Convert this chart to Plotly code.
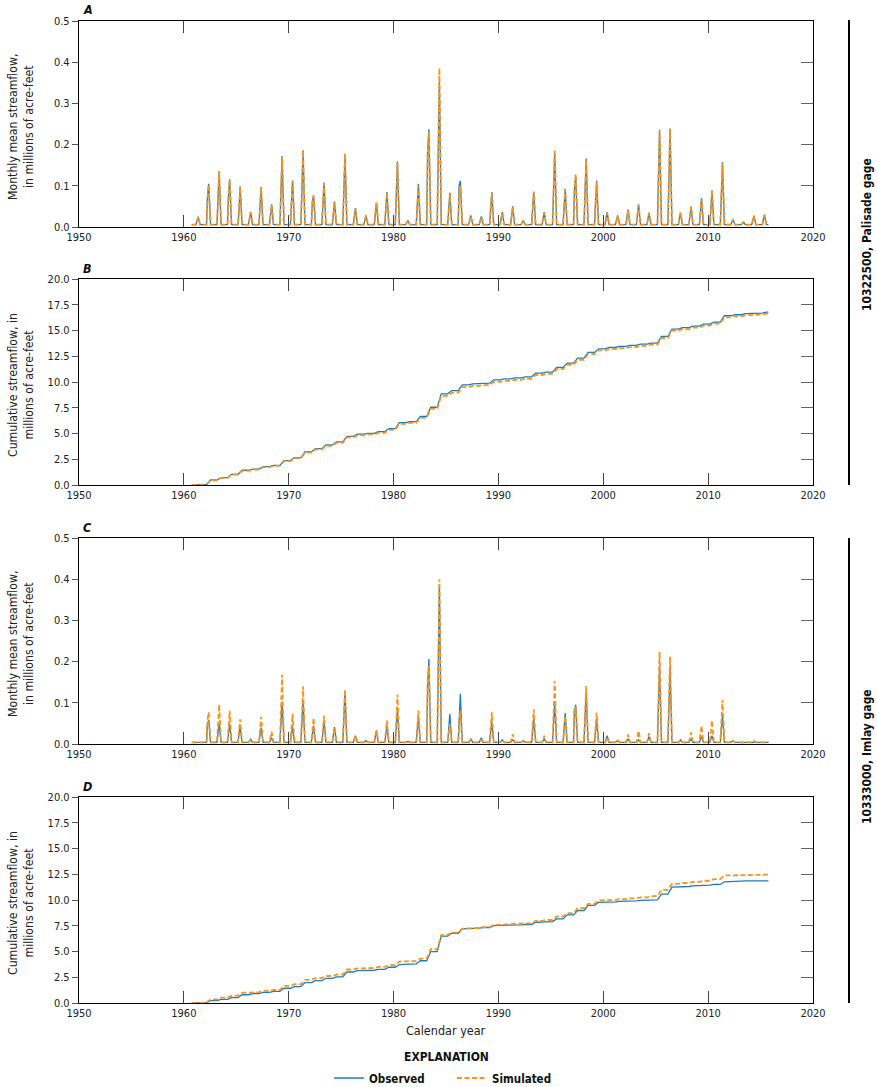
import plotly.graph_objects as go

# ---------------- data ----------------
years = list(range(1961, 2016))

# Panel A - Palisade gage, monthly mean streamflow peaks (millions of acre-feet)
a_obs_peak = [0.025, 0.105, 0.136, 0.116, 0.099, 0.037, 0.097, 0.055, 0.172, 0.113,
              0.186, 0.077, 0.108, 0.062, 0.176, 0.046, 0.028, 0.058, 0.085, 0.159,
              0.016, 0.104, 0.237, 0.352, 0.083, 0.112, 0.028, 0.026, 0.085, 0.036,
              0.050, 0.016, 0.085, 0.036, 0.178, 0.093, 0.122, 0.166, 0.113, 0.036,
              0.028, 0.042, 0.055, 0.035, 0.236, 0.239, 0.034, 0.049, 0.070, 0.089,
              0.158, 0.019, 0.012, 0.027, 0.030]
a_sim_peak = [0.024, 0.103, 0.134, 0.114, 0.097, 0.036, 0.095, 0.054, 0.170, 0.112,
              0.184, 0.075, 0.106, 0.060, 0.178, 0.045, 0.027, 0.060, 0.083, 0.155,
              0.016, 0.100, 0.230, 0.386, 0.080, 0.100, 0.027, 0.025, 0.083, 0.035,
              0.049, 0.016, 0.086, 0.035, 0.188, 0.092, 0.129, 0.162, 0.110, 0.035,
              0.027, 0.041, 0.054, 0.034, 0.234, 0.236, 0.036, 0.050, 0.068, 0.087,
              0.156, 0.019, 0.012, 0.028, 0.029]
a_obs_early = {1962: 0.070, 1964: 0.071, 1965: 0.035, 1972: 0.060, 1983: 0.182,
               1986: 0.101, 1997: 0.089}
a_sim_early = {1962: 0.068, 1964: 0.070, 1965: 0.034, 1972: 0.058, 1983: 0.170,
               1986: 0.077, 1997: 0.088}
a_base = 0.006

# Panel B - Palisade gage, cumulative streamflow at end of each year's runoff
b_obs = [0.05, 0.49, 0.71, 1.04, 1.43, 1.55, 1.78, 1.90, 2.37, 2.66,
         3.21, 3.53, 3.89, 4.18, 4.73, 4.93, 5.02, 5.19, 5.48, 6.06,
         6.16, 6.65, 7.55, 8.85, 9.17, 9.72, 9.82, 9.89, 10.21, 10.31,
         10.40, 10.50, 10.86, 10.96, 11.41, 11.83, 12.32, 12.87, 13.22, 13.35,
         13.45, 13.55, 13.68, 13.78, 14.42, 15.14, 15.27, 15.43, 15.62, 15.82,
         16.43, 16.53, 16.63, 16.69, 16.79]
b_sim = [0.05, 0.46, 0.68, 1.00, 1.38, 1.50, 1.73, 1.85, 2.31, 2.60,
         3.14, 3.45, 3.81, 4.09, 4.63, 4.82, 4.91, 5.07, 5.36, 5.93,
         6.03, 6.52, 7.40, 8.66, 8.97, 9.50, 9.62, 9.70, 10.01, 10.11,
         10.21, 10.31, 10.68, 10.79, 11.25, 11.67, 12.16, 12.71, 13.07, 13.19,
         13.29, 13.39, 13.52, 13.63, 14.27, 14.99, 15.12, 15.28, 15.47, 15.67,
         16.28, 16.38, 16.48, 16.55, 16.63]

# Panel C - Imlay gage, monthly mean streamflow peaks
c_obs_peak = [0.005, 0.058, 0.049, 0.049, 0.044, 0.012, 0.040, 0.015, 0.103, 0.042,
              0.106, 0.045, 0.057, 0.041, 0.126, 0.020, 0.008, 0.033, 0.045, 0.085,
              0.006, 0.065, 0.206, 0.386, 0.073, 0.122, 0.012, 0.015, 0.055, 0.010,
              0.010, 0.008, 0.061, 0.012, 0.098, 0.075, 0.095, 0.127, 0.058, 0.020,
              0.008, 0.012, 0.010, 0.018, 0.190, 0.184, 0.010, 0.012, 0.018, 0.020,
              0.070, 0.008, 0.004, 0.004, 0.004]
c_sim_peak = [0.005, 0.077, 0.096, 0.081, 0.060, 0.010, 0.066, 0.030, 0.168, 0.073,
              0.140, 0.063, 0.069, 0.040, 0.133, 0.020, 0.008, 0.033, 0.057, 0.120,
              0.006, 0.081, 0.190, 0.400, 0.049, 0.081, 0.010, 0.010, 0.077, 0.010,
              0.024, 0.008, 0.084, 0.020, 0.153, 0.067, 0.089, 0.141, 0.076, 0.015,
              0.010, 0.023, 0.032, 0.026, 0.224, 0.212, 0.010, 0.028, 0.044, 0.057,
              0.107, 0.008, 0.004, 0.008, 0.004]
c_obs_early = {1962: 0.049, 1983: 0.140, 1997: 0.080}
c_sim_early = {1962: 0.055, 1983: 0.150, 1997: 0.090}
c_base = 0.004

# Panel D - Imlay gage, cumulative streamflow
d_obs = [0.02, 0.23, 0.36, 0.52, 0.80, 0.92, 1.04, 1.13, 1.43, 1.59,
         1.98, 2.17, 2.40, 2.53, 3.01, 3.14, 3.18, 3.27, 3.47, 3.73,
         3.79, 4.10, 4.99, 6.50, 6.77, 7.20, 7.26, 7.33, 7.52, 7.56,
         7.59, 7.62, 7.84, 7.91, 8.17, 8.56, 8.98, 9.47, 9.76, 9.82,
         9.87, 9.91, 9.96, 10.02, 10.57, 11.25, 11.31, 11.37, 11.44, 11.51,
         11.77, 11.84, 11.85, 11.86, 11.86]
d_sim = [0.03, 0.35, 0.52, 0.72, 0.98, 1.05, 1.17, 1.26, 1.66, 1.82,
         2.24, 2.42, 2.62, 2.76, 3.25, 3.36, 3.40, 3.50, 3.68, 4.02,
         4.07, 4.30, 5.22, 6.62, 6.84, 7.22, 7.28, 7.36, 7.58, 7.65,
         7.70, 7.74, 7.97, 8.06, 8.40, 8.72, 9.21, 9.63, 9.95, 10.02,
         10.08, 10.16, 10.26, 10.38, 10.99, 11.57, 11.65, 11.75, 11.87, 12.03,
         12.38, 12.43, 12.44, 12.45, 12.46]

monthly_ticks = [0.0, 0.1, 0.2, 0.3, 0.4, 0.5]
cum_ticks = [0.0, 2.5, 5.0, 7.5, 10.0, 12.5, 15.0, 17.5, 20.0]
year_ticks = [1950, 1960, 1970, 1980, 1990, 2000, 2010, 2020]

# ---------------- helpers building series from the read values ----------------
def spike_series(peaks, early, base):
    xs, ys = ['1960-10-01'], [base]
    for yr, pk in zip(years, peaks):
        xs.append(f'{yr}-03-01'); ys.append(base)
        if yr in early:
            xs.append(f'{yr}-04-01'); ys.append(early[yr])
        xs.append(f'{yr}-05-15'); ys.append(pk)
        xs.append(f'{yr}-07-20'); ys.append(base)
    xs.append('2015-09-30'); ys.append(base)
    return xs, ys


def cum_series(totals):
    xs, ys = ['1960-10-01'], [0.0]
    prev = 0.0
    for yr, tot in zip(years, totals):
        xs.append(f'{yr}-03-01'); ys.append(prev)
        xs.append(f'{yr}-07-20'); ys.append(tot)
        prev = tot
    xs.append('2015-09-30'); ys.append(prev)
    return xs, ys


OBS_C = '#1a7cc1'
SIM_C = '#f7941d'
FONT = 'Liberation Sans Narrow, DejaVu Sans Condensed, Arial Narrow, sans-serif'
W, H = 877, 1087

fig = go.Figure()

panels = [
    ('A', spike_series(a_obs_peak, a_obs_early, a_base), spike_series(a_sim_peak, a_sim_early, a_base), 'm'),
    ('B', cum_series(b_obs), cum_series(b_sim), 'c'),
    ('C', spike_series(c_obs_peak, c_obs_early, c_base), spike_series(c_sim_peak, c_sim_early, c_base), 'm'),
    ('D', cum_series(d_obs), cum_series(d_sim), 'c'),
]

# pixel geometry of plot areas (top, bottom)
rows_px = [(21, 227), (279, 485), (538, 744), (797, 1003)]
x0_px, x1_px = 79, 813

def py(p):
    return 1 - p / H

for i, (letter, obs, sim, kind) in enumerate(panels):
    n = i + 1
    xa = 'x' if n == 1 else f'x{n}'
    ya = 'y' if n == 1 else f'y{n}'
    fig.add_trace(go.Scatter(x=obs[0], y=obs[1], mode='lines', name='<b>Observed</b>',
                             line=dict(color=OBS_C, width=1.3), xaxis=xa, yaxis=ya,
                             showlegend=(n == 1), legendgroup='o'))
    fig.add_trace(go.Scatter(x=sim[0], y=sim[1], mode='lines', name='<b>Simulated</b>',
                             line=dict(color=SIM_C, width=1.8, dash='5px,2.5px'), xaxis=xa, yaxis=ya,
                             showlegend=(n == 1), legendgroup='s'))
    # empty trace on the right-hand overlay axis
    fig.add_trace(go.Scatter(x=['1950-06-01'], y=[None], mode='lines', showlegend=False,
                             hoverinfo='skip', xaxis=xa, yaxis=f'y{n + 4}'))

    top, bot = rows_px[i]
    dom_y = [py(bot), py(top)]
    ticks = monthly_ticks if kind == 'm' else cum_ticks
    rng = [0, 0.5] if kind == 'm' else [0, 20]
    xkey = 'xaxis' if n == 1 else f'xaxis{n}'
    ykey = 'yaxis' if n == 1 else f'yaxis{n}'
    fig.layout[xkey] = dict(
        domain=[x0_px / W, x1_px / W], anchor=ya, type='date', automargin=False,
        range=['1950-01-01', '2020-01-01'],
        tickvals=[f'{y}-01-01' for y in year_ticks], ticktext=[str(y) for y in year_ticks],
        ticks='inside', ticklen=12, tickwidth=1.3, tickcolor='#444',
        showline=True, linecolor='black', linewidth=1.3, mirror='ticks',
        showgrid=False, zeroline=False,
        tickfont=dict(family=FONT, size=11, color='#222'))
    fig.layout[ykey] = dict(
        domain=dom_y, anchor=xa, range=rng, tickvals=ticks, automargin=False,
        ticktext=[format(t, '.1f') for t in ticks],
        ticks='outside', ticklen=6, tickwidth=1.3, tickcolor='#555',
        showline=True, linecolor='black', linewidth=1.3, mirror=True,
        showgrid=False, zeroline=False,
        tickfont=dict(family=FONT, size=11, color='#222'))
    fig.layout[f'yaxis{n + 4}'] = dict(
        overlaying=ya, anchor=xa, side='right', range=rng, tickvals=ticks[1:-1],
        ticks='inside', ticklen=12, tickwidth=1.3, tickcolor='#666', automargin=False,
        showticklabels=False, showline=False, showgrid=False, zeroline=False)

    # panel letter
    fig.add_annotation(x=81 / W, y=py(top - 11), xref='paper', yref='paper', text=f'<b><i>{letter}</i></b>',
                       showarrow=False, xanchor='left', yanchor='middle',
                       font=dict(family=FONT, size=12.5, color='#111'))
    # y axis title
    ytitle = ('Monthly mean streamflow,<br>in millions of acre-feet' if kind == 'm'
              else 'Cumulative streamflow, in<br>millions of acre-feet')
    fig.add_annotation(x=21 / W, y=py((top + bot) / 2 + 3), xref='paper', yref='paper', text=ytitle,
                       showarrow=False, textangle=-90, xanchor='center', yanchor='middle',
                       font=dict(family=FONT, size=12.2, color='#222'))

# right side group brackets and labels
for (t, b, lab, cy) in [(20, 485, '10322500, Palisade gage', 235), (538, 1003, '10333000, Imlay gage', 757)]:
    fig.add_shape(type='line', xref='paper', yref='paper', x0=849 / W, x1=849 / W, y0=py(t), y1=py(b),
                  line=dict(color='black', width=2))
    fig.add_annotation(x=867 / W, y=py(cy), xref='paper', yref='paper', text=f'<b>{lab}</b>',
                       showarrow=False, textangle=-90, xanchor='center', yanchor='middle',
                       font=dict(family=FONT, size=12, color='#111'))

fig.add_annotation(x=446 / W, y=py(1030), xref='paper', yref='paper', text='Calendar year',
                   showarrow=False, xanchor='center', yanchor='middle',
                   font=dict(family=FONT, size=12.5, color='#222'))
fig.add_annotation(x=446 / W, y=py(1057), xref='paper', yref='paper', text='<b>EXPLANATION</b>',
                   showarrow=False, xanchor='center', yanchor='middle',
                   font=dict(family=FONT, size=12, color='#111'))

fig.update_layout(
    width=W, height=H, margin=dict(l=0, r=0, t=0, b=0, autoexpand=False),
    paper_bgcolor='white', plot_bgcolor='white',
    showlegend=True,
    legend=dict(orientation='h', x=452 / W, xanchor='center', y=py(1078), yanchor='middle',
                itemwidth=30, font=dict(family=FONT, size=11.5, color='#111'),
                bgcolor='rgba(0,0,0,0)', tracegroupgap=0, entrywidth=78),
)

fig.write_html('out.html')
